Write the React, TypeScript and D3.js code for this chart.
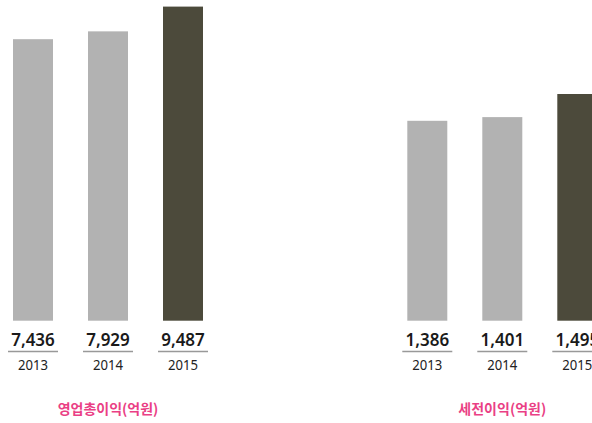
import React from "react";
import * as d3 from "d3";

const years = ["2013", "2014", "2015"];
const grossProfit = [7436, 7929, 9487];
const preTaxProfit = [1386, 1401, 1495];
const titles = ["영업총이익(억원)", "세전이익(억원)"];

const W = 592;
const H = 423;
const baseY = 320.7;
const barW = 40;
const step = 75;

type PanelProps = { x0: number; values: number[]; title: string; domain: [number, number]; range: [number, number] };

function Panel({ x0, values, title, domain, range }: PanelProps) {
  const x = d3.scaleBand<string>().domain(years).range([x0, x0 + step * 3]).padding(0);
  const h = d3.scaleLinear().domain(domain).range(range);
  const fmt = d3.format(",");
  const xs = (y: string) => (x(y) as number);
  const center = x0 + step + barW / 2;
  return (
    <g>
      {years.map((yr, i) => {
        const bx = xs(yr);
        const bh = h(values[i]);
        const cx = bx + barW / 2;
        return (
          <g key={yr}>
            <rect x={bx} y={baseY - bh} width={barW} height={bh} fill={i === 2 ? "#4c4a3b" : "#b2b2b2"} />
            <text x={cx} y={346} textAnchor="middle" fontSize={17} fontWeight={600} fill="#1a1a1a" fontFamily="'Noto Sans', sans-serif">{fmt(values[i])}</text>
            <line x1={cx - 25} x2={cx + 25} y1={351.5} y2={351.5} stroke="#999" strokeWidth={1.5} />
            <text x={cx} y={369.5} textAnchor="middle" fontSize={14} fill="#222" fontFamily="'Noto Sans', sans-serif" textLength={30} lengthAdjust="spacingAndGlyphs">{yr}</text>
          </g>
        );
      })}
      <text x={center} y={413.5} textAnchor="middle" fontSize={14} fontWeight={700} fill="#ea3f85" fontFamily="'Noto Sans CJK KR', sans-serif">{title}</text>
    </g>
  );
}

export default function App() {
  return (
    <svg width={W} height={H} style={{ position: "absolute", left: 0, top: 0, background: "#fff" }}>
      <Panel x0={13} values={grossProfit} title={titles[0]} domain={[-10283, 9487]} range={[0, 314.1]} />
      <Panel x0={407.3} values={preTaxProfit} title={titles[1]} domain={[573, 1495]} range={[0, 226.7]} />
    </svg>
  );
}
